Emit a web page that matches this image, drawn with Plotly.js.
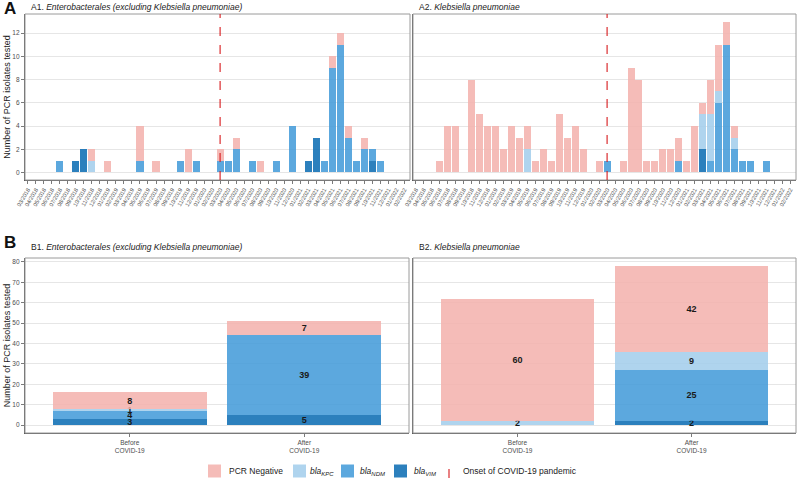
<!DOCTYPE html>
<html>
<head>
<meta charset="utf-8">
<script src="https://cdn.plot.ly/plotly-3.0.1.min.js"></script>
<style>html,body{margin:0;padding:0;background:#fff;}#chart{width:800px;height:480px;}</style>
</head>
<body>
<div id="chart"></div>
<script>
// ---------- DATA ----------
const months = [
  "03/2018","04/2018","05/2018","06/2018","07/2018","08/2018","09/2018","10/2018","11/2018","12/2018","01/2019","02/2019",
  "03/2019","04/2019","05/2019","06/2019","07/2019","08/2019","09/2019","10/2019","11/2019","12/2019","01/2020","02/2020",
  "03/2020","04/2020","05/2020","06/2020","07/2020","08/2020","09/2020","10/2020","11/2020","12/2020","01/2021","02/2021",
  "03/2021","04/2021","05/2021","06/2021","07/2021","08/2021","09/2021","10/2021","11/2021","12/2021","01/2022","02/2022"
];
const onsetMonth = "03/2020";

// A1. Enterobacterales (excluding K. pneumoniae) — monthly counts
const entVIM = [0,0,0,0,0,0,1,2,0,0,0,0, 0,0,0,0,0,0,0,0,0,0,0,0, 0,0,0,0,0,0,0,0,0,0,0,1, 3,0,0,0,0,0,0,1,0,0,0,0];
const entNDM = [0,0,0,0,1,0,0,0,0,0,0,0, 0,0,1,0,0,0,0,1,0,1,0,0, 1,1,2,0,1,0,0,1,0,4,0,0, 0,1,9,11,3,1,2,1,1,0,0,0];
const entKPC = [0,0,0,0,0,0,0,0,1,0,0,0, 0,0,0,0,0,0,0,0,0,0,0,0, 0,0,0,0,0,0,0,0,0,0,0,0, 0,0,0,0,0,0,0,0,0,0,0,0];
const entNeg = [0,0,0,0,0,0,0,0,1,0,1,0, 0,0,3,0,1,0,0,0,2,0,0,0, 1,0,1,0,0,1,0,0,0,0,0,0, 0,0,1,1,1,0,1,0,0,0,0,0];

// A2. Klebsiella pneumoniae — monthly counts
const kpVIM = [0,0,0,0,0,0,0,0,0,0,0,0, 0,0,0,0,0,0,0,0,0,0,0,0, 0,0,0,0,0,0,0,0,0,0,0,0, 2,0,0,0,0,0,0,0,0,0,0,0];
const kpNDM = [0,0,0,0,0,0,0,0,0,0,0,0, 0,0,0,0,0,0,0,0,0,0,0,0, 1,0,0,0,0,0,0,0,0,1,0,0, 0,1,6,11,2,1,1,0,1,0,0,0];
const kpKPC = [0,0,0,0,0,0,0,0,0,0,0,0, 0,0,2,0,0,0,0,0,0,0,0,0, 0,0,0,0,0,0,0,0,0,0,0,0, 3,4,1,0,1,0,0,0,0,0,0,0];
const kpNeg = [0,0,0,1,4,4,0,8,5,4,4,2, 4,3,2,1,2,1,5,3,4,2,0,1, 0,0,1,9,8,1,1,2,2,2,1,4, 1,3,4,2,1,0,0,0,0,0,0,0];

// B. Before / after COVID-19 totals
const periods = ["Before<br>COVID-19", "After<br>COVID-19"];
const entTotVIM = [3, 5];
const entTotNDM = [4, 39];
const entTotKPC = [1, 0];
const entTotNeg = [8, 7];
const kpTotVIM = [0, 2];
const kpTotNDM = [0, 25];
const kpTotKPC = [2, 9];
const kpTotNeg = [60, 42];

const seriesNames = ["PCR Negative", "<i>bla</i><sub><i>KPC</i></sub>", "<i>bla</i><sub><i>NDM</i></sub>", "<i>bla</i><sub><i>VIM</i></sub>"];
const onsetLabel = "Onset of COVID-19 pandemic";
const panelTitles = [
  "A1. <i>Enterobacterales (excluding Klebsiella pneumoniae)</i>",
  "A2. <i>Klebsiella pneumoniae</i>",
  "B1. <i>Enterobacterales (excluding Klebsiella pneumoniae)</i>",
  "B2. <i>Klebsiella pneumoniae</i>"
];
const yTitle = "Number of PCR isolates tested";

// ---------- STYLE ----------
const colNeg = "#F3B0AC", colKPC = "#A1CCEB", colNDM = "#3F99D8", colVIM = "#076AB1";
const barOpacity = 0.85;
const font = "Liberation Sans, Arial, Helvetica, sans-serif";
const W = 800, H = 480;
const px = v => v / W, py = v => 1 - v / H;

function bar(x, y, color, xa, ya, withText) {
  const t = {
    type: "bar", x: x, y: y, xaxis: xa, yaxis: ya,
    marker: {color: color, opacity: barOpacity, line: {width: 0}},
    showlegend: false, hoverinfo: "skip"
  };
  if (withText) {
    t.text = y.map(v => v > 0 ? "<b>" + v + "</b>" : "");
    t.textposition = "inside";
    t.insidetextanchor = "middle";
    t.textangle = 0;
    t.constraintext = "none";
    t.textfont = {size: 9, color: "#1a1a1a", family: font};
  }
  return t;
}

const traces = [
  bar(months, entVIM, colVIM, "x", "y"),
  bar(months, entNDM, colNDM, "x", "y"),
  bar(months, entKPC, colKPC, "x", "y"),
  bar(months, entNeg, colNeg, "x", "y"),
  bar(months, kpVIM, colVIM, "x2", "y2"),
  bar(months, kpNDM, colNDM, "x2", "y2"),
  bar(months, kpKPC, colKPC, "x2", "y2"),
  bar(months, kpNeg, colNeg, "x2", "y2"),
  bar(periods, entTotVIM, colVIM, "x3", "y3", true),
  bar(periods, entTotNDM, colNDM, "x3", "y3", true),
  bar(periods, entTotKPC, colKPC, "x3", "y3", true),
  bar(periods, entTotNeg, colNeg, "x3", "y3", true),
  bar(periods, kpTotVIM, colVIM, "x4", "y4", true),
  bar(periods, kpTotNDM, colNDM, "x4", "y4", true),
  bar(periods, kpTotKPC, colKPC, "x4", "y4", true),
  bar(periods, kpTotNeg, colNeg, "x4", "y4", true)
];

const axisLine = "#5a5a5a";
const tickCol = "#4d4d4d";
function xMonth(domain) {
  return {
    type: "category", domain: domain, range: [-0.35, 47.7],
    tickmode: "linear", tick0: 0, dtick: 1, tickangle: -60,
    tickfont: {size: 5.6, color: tickCol, family: font},
    ticks: "outside", ticklen: 3, tickwidth: 0.8, tickcolor: axisLine,
    showline: true, linecolor: axisLine, linewidth: 1.2,
    showgrid: false, zeroline: false, fixedrange: true
  };
}
function xPeriod(domain) {
  return {
    type: "category", domain: domain, range: [-0.6, 1.6],
    tickfont: {size: 6.5, color: tickCol, family: font},
    ticks: "outside", ticklen: 3, tickwidth: 0.8, tickcolor: axisLine,
    showline: true, linecolor: axisLine, linewidth: 1.2,
    showgrid: false, zeroline: false, fixedrange: true
  };
}
function yAx(domain, range, dtick, showLabels, anchor) {
  const a = {
    domain: domain, range: range, anchor: anchor, dtick: dtick, tick0: 0,
    showgrid: true, gridcolor: "#e6e6e6", gridwidth: 1,
    showline: true, linecolor: axisLine, linewidth: 1.2,
    zeroline: false, fixedrange: true,
    tickfont: {size: 6.5, color: tickCol, family: font}
  };
  if (showLabels) {
    a.ticks = "outside"; a.ticklen = 3; a.tickwidth = 0.8; a.tickcolor = axisLine;
    a.title = {text: yTitle, font: {size: 9, color: "#222", family: font}, standoff: 0};
  } else {
    a.showticklabels = false; a.ticks = "";
  }
  return a;
}

const dA1 = [px(25), px(410)], dA2 = [px(413), px(796)];
const dB1 = [px(25), px(409)], dB2 = [px(413), px(796)];
const dAy = [py(180), py(14)], dBy = [py(433), py(258)];

const shapes = [];
[["x","y"],["x2","y2"],["x3","y3"],["x4","y4"]].forEach(([xa, ya]) => {
  shapes.push({type: "rect", xref: xa + " domain", yref: ya + " domain", x0: 0, x1: 1, y0: 0, y1: 1,
    line: {color: "#9a9a9a", width: 1}, layer: "above"});
});
const onsetIdx = months.indexOf(onsetMonth);
["x","x2"].forEach((xa, k) => {
  shapes.push({type: "line", xref: xa, yref: (k === 0 ? "y" : "y2") + " domain",
    x0: onsetIdx, x1: onsetIdx, y0: 0, y1: 1,
    line: {color: "#D7191C", width: 1.1, dash: "dash"}, layer: "above"});
});

// legend (custom, bottom centre)
const legendItems = [
  {label: seriesNames[0], color: colNeg, x0: 208, tx: 227},
  {label: seriesNames[1], color: colKPC, x0: 293, tx: 308},
  {label: seriesNames[2], color: colNDM, x0: 341, tx: 358},
  {label: seriesNames[3], color: colVIM, x0: 394, tx: 412}
];
const annotations = [];
const legY = 471;
legendItems.forEach(it => {
  shapes.push({type: "rect", xref: "paper", yref: "paper", x0: px(it.x0), x1: px(it.x0 + 13),
    y0: py(legY + 6.5), y1: py(legY - 6.5), fillcolor: it.color, opacity: barOpacity, line: {width: 0}});
  annotations.push({xref: "paper", yref: "paper", x: px(it.tx), y: py(legY), xanchor: "left", yanchor: "middle",
    text: it.label, showarrow: false, font: {size: 8.5, color: "#222", family: font}});
});
shapes.push({type: "line", xref: "paper", yref: "paper", x0: px(449), x1: px(449), y0: py(478), y1: py(462),
  line: {color: "#D7191C", width: 1.1, dash: "dash"}});
annotations.push({xref: "paper", yref: "paper", x: px(461), y: py(legY), xanchor: "left", yanchor: "middle",
  text: onsetLabel, showarrow: false, font: {size: 8.5, color: "#222", family: font}});

// panel titles and letters
[[29, 7, panelTitles[0]], [417, 7, panelTitles[1]], [29, 247, panelTitles[2]], [417, 247, panelTitles[3]]].forEach(([x, y, t]) => {
  annotations.push({xref: "paper", yref: "paper", x: px(x), y: py(y), xanchor: "left", yanchor: "middle",
    text: t, showarrow: false, font: {size: 8.5, color: "#222", family: font}});
});
[["A", 8], ["B", 242]].forEach(([t, y]) => {
  annotations.push({xref: "paper", yref: "paper", x: px(2), y: py(y), xanchor: "left", yanchor: "middle",
    text: "<b>" + t + "</b>", showarrow: false, font: {size: 17, color: "#111", family: font}});
});

const layout = {
  width: W, height: H, margin: {l: 0, r: 0, t: 0, b: 0},
  paper_bgcolor: "#fff", plot_bgcolor: "#fff",
  font: {family: font, color: "#222"},
  barmode: "stack", bargap: 0.12,
  showlegend: false, hovermode: false,
  uniformtext: {mode: "show", minsize: 9},
  xaxis: Object.assign(xMonth(dA1), {anchor: "y"}),
  xaxis2: Object.assign(xMonth(dA2), {anchor: "y2"}),
  xaxis3: Object.assign(xPeriod(dB1), {anchor: "y3"}),
  xaxis4: Object.assign(xPeriod(dB2), {anchor: "y4"}),
  yaxis: yAx(dAy, [-0.65, 13.65], 2, true, "x"),
  yaxis2: yAx(dAy, [-0.65, 13.65], 2, false, "x2"),
  yaxis3: yAx(dBy, [-3.9, 81.9], 10, true, "x3"),
  yaxis4: yAx(dBy, [-3.9, 81.9], 10, false, "x4"),
  shapes: shapes, annotations: annotations
};

Plotly.newPlot("chart", traces, layout, {displayModeBar: false, staticPlot: true});
</script>
</body>
</html>
